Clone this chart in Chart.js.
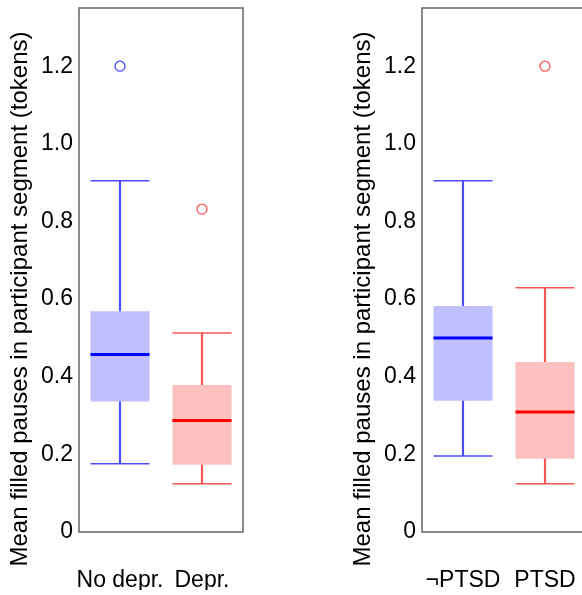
<!DOCTYPE html>
<html>
<head>
<meta charset="utf-8">
<script src="https://cdn.jsdelivr.net/npm/chart.js@4.4.1/dist/chart.umd.min.js"></script>
<style>
  html, body { margin: 0; padding: 0; background: #fff; overflow: hidden; }
  .panel { position: absolute; top: 0; width: 343px; height: 595px; }
</style>
</head>
<body>
<div class="panel" style="left:0"><canvas id="chart1"></canvas></div>
<div class="panel" style="left:343px"><canvas id="chart2"></canvas></div>
<script>
// depression panel
var depLabels = ['No depr.', 'Depr.'];
var depLow = [0.176, 0.124];
var depQ1 = [0.336, 0.173];
var depMed = [0.457, 0.287];
var depQ3 = [0.569, 0.379];
var depHigh = [0.905, 0.513];
var depOut = [1.2, 0.832];

// PTSD panel
var ptsdLabels = ['\u00acPTSD', 'PTSD'];
var ptsdLow = [0.196, 0.124];
var ptsdQ1 = [0.338, 0.189];
var ptsdMed = [0.5, 0.309];
var ptsdQ3 = [0.582, 0.438];
var ptsdHigh = [0.905, 0.629];
var ptsdOut = [null, 1.2];

var yTicks = [0, 0.2, 0.4, 0.6, 0.8, 1.0, 1.2];
var yTitle = 'Mean filled pauses in participant segment (tokens)';

var fillCols = ['#c0c0ff', '#ffc0c0'];
var lineCols = ['#4d4dff', '#ff5555'];
var medCols = ['#0000ff', '#ff0000'];
var fontFam = 'Liberation Sans, Arial, sans-serif';

var framePlugin = {
	id: 'frame',
	afterDatasetsDraw: function(chart) {
		var a = chart.chartArea, ctx = chart.ctx;
		ctx.save();
		ctx.strokeStyle = '#666';
		ctx.lineWidth = 1.5;
		ctx.strokeRect(a.left, a.top, a.right - a.left, a.bottom - a.top);
		ctx.restore();
	}
};

function drawBoxChart(id, labels, low, q1, med, q3, high, out) {

	var boxes = labels.map(function(l, i) { return [q1[i], q3[i]]; });
	var whisk = labels.map(function(l, i) { return [low[i], high[i]]; });

	new Chart(document.getElementById(id), {
		type: 'bar',
		data: {
			labels: labels,
			datasets: [
				// whisker stem, drawn under the box
				{ data: whisk, backgroundColor: lineCols, barThickness: 1.5, grouped: false, order: 3 },
				{ data: boxes, backgroundColor: fillCols, barPercentage: 0.72, categoryPercentage: 1, grouped: false, order: 2 },
				{ type: 'line', data: low, showLine: false, pointStyle: 'line', pointRadius: 29.5, pointBorderWidth: 1.5, pointBorderColor: lineCols, order: 1 },
				{ type: 'line', data: high, showLine: false, pointStyle: 'line', pointRadius: 29.5, pointBorderWidth: 1.5, pointBorderColor: lineCols, order: 1 },
				{ type: 'line', data: med, showLine: false, pointStyle: 'line', pointRadius: 29.5, pointBorderWidth: 3, pointBorderColor: medCols, order: 1 },
				{ type: 'line', data: out, showLine: false, pointStyle: 'circle', pointRadius: 5, pointBorderWidth: 1.3, pointBackgroundColor: 'rgba(0,0,0,0)', pointBorderColor: lineCols, order: 1 }
			]
		},
		options: {
			responsive: true,
			maintainAspectRatio: false,
			animation: false,
			layout: { autoPadding: false, padding: { left: 3, right: 100, top: 8, bottom: 5 } },
			plugins: {
				legend: { display: false },
				tooltip: { enabled: false },
				title: {
					display: true,
					position: 'left',
					text: yTitle,
					color: '#000',
					font: { family: fontFam, size: 24, weight: 'normal' },
					padding: { top: 3, bottom: 4 }
				}
			},
			scales: {
				x: {
					offset: true,
					grid: { display: false, drawTicks: false },
					border: { display: false },
					afterFit: function(s) {
						s.height = 58;
						s.paddingLeft = 0;
						s.paddingRight = 0;
					},
					ticks: { color: '#000', font: { family: fontFam, size: 23 }, padding: 35, maxRotation: 0, autoSkip: false }
				},
				y: {
					min: 0,
					max: 1.35,
					grid: { display: false, drawTicks: false },
					border: { display: false },
					afterBuildTicks: function(s) {
						s.ticks = yTicks.map(function(v) { return { value: v }; });
					},
					afterFit: function(s) {
						s.width = 40.2;
						s.paddingTop = 0;
						s.paddingBottom = 0;
					},
					ticks: {
						color: '#000',
						font: { family: fontFam, size: 23 },
						padding: 6,
						callback: function(v) { return v === 0 ? '0' : v.toFixed(1); }
					}
				}
			}
		},
		plugins: [framePlugin]
	});
}

drawBoxChart('chart1', depLabels, depLow, depQ1, depMed, depQ3, depHigh, depOut);
drawBoxChart('chart2', ptsdLabels, ptsdLow, ptsdQ1, ptsdMed, ptsdQ3, ptsdHigh, ptsdOut);
</script>
</body>
</html>
